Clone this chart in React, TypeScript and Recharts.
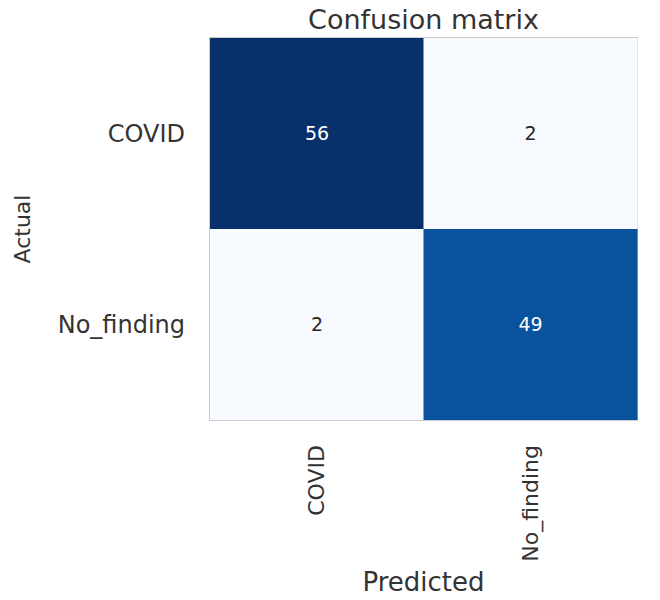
import { Bar, BarChart, Cell, LabelList, ReferenceArea, XAxis, YAxis } from "recharts";

const predictedLabels = ["COVID", "No_finding"];
const actualLabels = ["COVID", "No_finding"];
const covidRow = [56, 2];
const noFindingRow = [2, 49];

const matrix = [covidRow, noFindingRow];
const allValues = matrix.flat();
const vMin = Math.min(...allValues);
const vMax = Math.max(...allValues);

// matplotlib "Blues"
const blues = ["#f7fbff", "#deebf7", "#c6dbef", "#9ecae1", "#6baed6", "#4292c6", "#2171b5", "#08519c", "#08306b"];

function hexToRgb(h: string) {
  const n = parseInt(h.slice(1), 16);
  return [(n >> 16) & 255, (n >> 8) & 255, n & 255];
}

function bluesColor(v: number) {
  const t = (v - vMin) / (vMax - vMin);
  const pos = t * (blues.length - 1);
  const i = Math.min(Math.floor(pos), blues.length - 2);
  const f = pos - i;
  const a = hexToRgb(blues[i]);
  const b = hexToRgb(blues[i + 1]);
  const c = a.map((av, k) => Math.round(av + (b[k] - av) * f));
  return `rgb(${c[0]},${c[1]},${c[2]})`;
}

// one entry per predicted column, each row is a stacked unit-height segment
const tableData = predictedLabels.map((label, j) => ({
  predicted: label,
  r0: 1,
  r1: 1,
  v0: covidRow[j],
  v1: noFindingRow[j],
}));

const FONT = "DejaVu Sans, sans-serif";
const TEXT = "#333333";

function CellValue(props: any) {
  const { x, y, width, height, value } = props;
  const dark = (value - vMin) / (vMax - vMin) > 0.5;
  return (
    <text
      x={x + width / 2}
      y={y + height / 2}
      dy="0.35em"
      textAnchor="middle"
      fontSize={19}
      fontFamily={FONT}
      fill={dark ? "#ffffff" : "#262626"}
    >
      {value}
    </text>
  );
}

function RotatedTick(props: any) {
  const { x, y, payload } = props;
  return (
    <g transform={`translate(${x},${y + 23})`}>
      <text transform="rotate(-90)" textAnchor="end" dy="0.35em" fontSize={22} fontFamily={FONT} fill={TEXT}>
        {payload.value}
      </text>
    </g>
  );
}

export default function App() {
  return (
    <div style={{ position: "absolute", left: 0, top: 0, background: "#fff" }}>
      <BarChart
        width={660}
        height={600}
        data={tableData}
        margin={{ top: 38, right: 23, left: 0, bottom: 0 }}
        barCategoryGap={0}
        barGap={0}
        style={{ fontFamily: FONT }}
      >
        <XAxis
          dataKey="predicted"
          height={180}
          axisLine={false}
          tickLine={false}
          tickSize={0}
          tick={<RotatedTick />}
          interval={0}
          label={{ value: "Predicted", position: "insideBottom", offset: 9, fontSize: 26, fill: TEXT }}
        />
        <YAxis
          type="number"
          domain={[0, 2]}
          reversed
          ticks={[0.5, 1.5]}
          tickFormatter={(v: number) => actualLabels[Math.floor(v)]}
          width={210}
          axisLine={false}
          tickLine={false}
          tickSize={0}
          tickMargin={25}
          tick={{ fontSize: 24, fill: TEXT }}
          label={{
            value: "Actual",
            angle: -90,
            position: "insideLeft",
            offset: 22,
            fontSize: 22,
            fill: TEXT,
            style: { textAnchor: "middle" },
          }}
        />
        <Bar dataKey="r0" stackId="m" isAnimationActive={false}>
          {tableData.map((d) => (
            <Cell key={`c0-${d.predicted}`} fill={bluesColor(d.v0)} />
          ))}
          <LabelList dataKey="v0" content={<CellValue />} />
        </Bar>
        <Bar dataKey="r1" stackId="m" isAnimationActive={false}>
          {tableData.map((d) => (
            <Cell key={`c1-${d.predicted}`} fill={bluesColor(d.v1)} />
          ))}
          <LabelList dataKey="v1" content={<CellValue />} />
        </Bar>
        <ReferenceArea
          y1={0}
          y2={2}
          fill="none"
          stroke="#cccccc"
          strokeWidth={2}
          ifOverflow="visible"
          label={{ value: "Confusion matrix", position: "top", offset: 9, fontSize: 27, fill: TEXT }}
        />
      </BarChart>
    </div>
  );
}
